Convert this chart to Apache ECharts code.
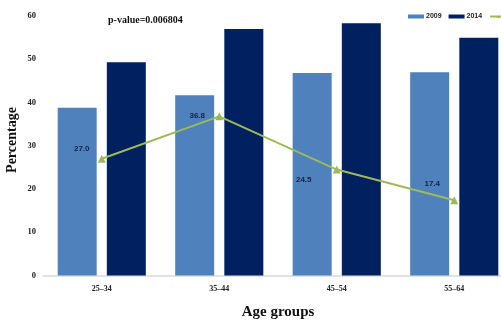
<!DOCTYPE html>
<html>
<head>
<meta charset="utf-8">
<script src="https://cdn.jsdelivr.net/npm/echarts@6/dist/echarts.min.js"></script>
<style>
html,body{margin:0;padding:0;background:#fff;}
#chart{width:501px;height:326px;}
</style>
</head>
<body>
<div id="chart"></div>
<script>
const categories = ['25\u201334', '35\u201344', '45\u201354', '55\u201364'];
const values2009 = [38.8, 41.7, 46.8, 47.0];
const values2014 = [49.3, 57.0, 58.3, 55.0];
const lineValues = [27.0, 36.8, 24.5, 17.4];
const lineLabels = ['27.0', '36.8', '24.5', '17.4'];
const yTicks = { min: 0, max: 60, interval: 10 };
const pValueText = 'p-value=0.006804';
const yAxisTitle = 'Percentage';
const xAxisTitle = 'Age groups';

// label placement (style, not data)
const labelOffsets = [[-20, -10], [-22, -1], [-33, 10], [-22, -16]];

const chart = echarts.init(document.getElementById('chart'), null, { renderer: 'canvas' });

const lineData = lineValues.map((v, i) => ({
  value: v,
  label: { offset: labelOffsets[i], formatter: lineLabels[i] }
}));

chart.setOption({
  animation: false,
  backgroundColor: '#ffffff',
  grid: { left: 43, right: -12, top: 16, bottom: 50.5, containLabel: false, outerBoundsMode: 'none' },
  legend: {
    left: 403, top: 8, width: 300,
    itemWidth: 16, itemHeight: 4, itemGap: 7,
    textStyle: { fontFamily: 'Liberation Sans', fontSize: 7, fontWeight: 'bold', color: '#222', padding: [0, 0, 0, -3] },
    data: [
      { name: '2009', icon: 'rect' },
      { name: '2014', icon: 'rect' },
      { name: 'Difference' }
    ]
  },
  graphic: [
    {
      type: 'text', left: 108, top: 15,
      style: { text: pValueText, font: 'bold 10px "Liberation Serif"', fill: '#111' }
    },
    {
      type: 'text', x: 12, y: 140, rotation: Math.PI / 2,
      style: { text: yAxisTitle, font: 'bold 14px "Liberation Serif"', fill: '#111', align: 'center', verticalAlign: 'middle' }
    }
  ],
  xAxis: {
    type: 'category',
    data: categories,
    axisLine: { show: true, lineStyle: { color: '#D9D9D9', width: 1.5 } },
    axisTick: { show: false },
    axisLabel: { margin: 9, fontFamily: 'Liberation Serif', fontSize: 8, fontWeight: 'bold', color: '#222' },
    name: xAxisTitle,
    nameLocation: 'middle',
    nameGap: 29,
    nameTextStyle: { fontFamily: 'Liberation Serif', fontSize: 15, fontWeight: 'bold', color: '#111' }
  },
  yAxis: {
    type: 'value',
    min: yTicks.min, max: yTicks.max, interval: yTicks.interval,
    splitLine: { show: false },
    axisLine: { show: false },
    axisTick: { show: false },
    axisLabel: { margin: 7, fontFamily: 'Liberation Serif', fontSize: 8.5, fontWeight: 'bold', color: '#222' }
  },
  series: [
    {
      name: '2009', type: 'bar', data: values2009,
      barWidth: 39, barGap: '26%',
      itemStyle: { color: '#4F81BD' }
    },
    {
      name: '2014', type: 'bar', data: values2014,
      barWidth: 39,
      itemStyle: { color: '#002060' }
    },
    {
      name: 'Difference', type: 'line', data: lineData, z: 5,
      symbol: 'triangle', symbolSize: 8,
      lineStyle: { color: '#9BBB59', width: 2 },
      itemStyle: { color: '#9BBB59' },
      label: {
        show: true, position: 'inside', align: 'center', verticalAlign: 'middle',
        fontFamily: 'Liberation Sans', fontSize: 8, fontWeight: 'bold', color: '#14204a'
      }
    }
  ]
});
</script>
</body>
</html>
